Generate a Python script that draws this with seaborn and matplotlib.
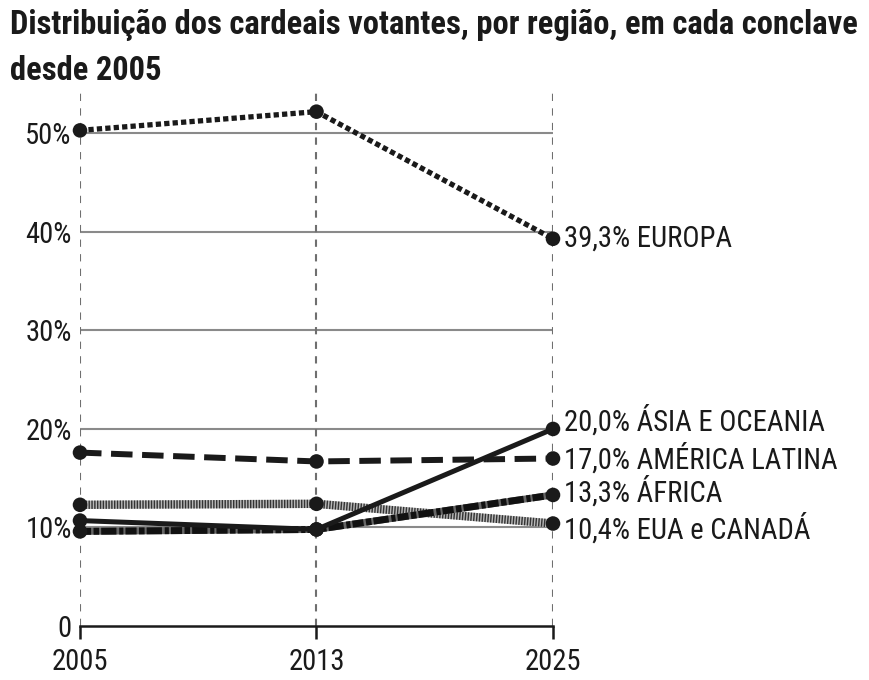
import matplotlib
matplotlib.use("Agg")
import matplotlib.pyplot as plt
from matplotlib import font_manager
import seaborn as sns
import pandas as pd

# ---- data ----
years = ["2005", "2013", "2025"]
regions = ["EUA e CANADÁ", "ÁFRICA", "AMÉRICA LATINA", "ÁSIA E OCEANIA", "EUROPA"]
eua_canada = [12.3, 12.4, 10.4]
africa = [9.6, 9.8, 13.3]
america_latina = [17.6, 16.7, 17.0]
asia_oceania = [10.7, 9.8, 20.0]
europa = [50.3, 52.2, 39.3]
y_ticks = [0, 10, 20, 30, 40, 50]
y_tick_labels = ["0", "10%", "20%", "30%", "40%", "50%"]
title_l1 = "Distribuição dos cardeais votantes, por região, em cada conclave"
title_l2 = "desde 2005"

series = {
    "EUA e CANADÁ": eua_canada,
    "ÁFRICA": africa,
    "AMÉRICA LATINA": america_latina,
    "ÁSIA E OCEANIA": asia_oceania,
    "EUROPA": europa,
}

df = pd.DataFrame(
    [(r, y, v) for r in regions for y, v in zip(years, series[r])],
    columns=["region", "year", "value"],
)

sns.set_theme(style="white")
avail = {f.name for f in font_manager.fontManager.ttflist}
font = "DejaVu Sans"
for cand in ["Liberation Sans Narrow", "DejaVu Sans Condensed", "Roboto Condensed",
             "Open Sans Condensed", "Noto Sans Condensed", "Lato"]:
    if cand in avail:
        font = cand
        break
plt.rcParams["font.family"] = [font, "DejaVu Sans"]
INK = "#1a1a1a"

fig = plt.figure(figsize=(8.7, 6.8), dpi=100)
ax = fig.add_axes([80 / 870, 54 / 680, 473 / 870, 537 / 680])
renderer = fig.canvas.get_renderer()


def fit_size(text, target_px, base=20, **kw):
    t = fig.text(0, 0, text, fontsize=base, **kw)
    w = t.get_window_extent(renderer=renderer).width
    t.remove()
    return base * target_px / w


styles = {
    "EUA e CANADÁ": [dict(color="#b8b8b8", lw=6.0, ls="-"),
                     dict(color="#333333", lw=6.0, ls=(0, (0.17, 0.17)))],
    "ÁFRICA": [dict(color="#666666", lw=5.0, ls="-"),
               dict(color="#111111", lw=5.0, ls=(0, (1.6, 0.35, 0.8, 0.3, 2.2, 0.4, 0.6, 0.3)))],
    "AMÉRICA LATINA": [dict(color=INK, lw=4.3, ls=(0, (3.6, 1.6)))],
    "ÁSIA E OCEANIA": [dict(color=INK, lw=3.6, ls="-")],
    "EUROPA": [dict(color=INK, lw=3.8, ls=(0, (1.0, 0.6)))],
}

for r in regions:
    sub = df[df.region == r]
    for st in styles[r]:
        sns.lineplot(data=sub, x="year", y="value", ax=ax, color=st["color"],
                     linewidth=st["lw"], linestyle=st["ls"], sort=False,
                     legend=False, solid_capstyle="butt", dash_capstyle="butt")
    sns.scatterplot(data=sub, x="year", y="value", ax=ax, color=INK,
                    s=110, edgecolor="none", zorder=5, clip_on=False, legend=False)

lab_size = fit_size("17,0% AMÉRICA LATINA", 273)

# labels at right
offsets = {"EUROPA": 0, "ÁSIA E OCEANIA": 6, "AMÉRICA LATINA": 0,
           "ÁFRICA": 2, "EUA e CANADÁ": -4}
for r in regions:
    v = series[r][-1]
    txt = f"{v:.1f}".replace(".", ",") + "% " + r
    ax.annotate(txt, xy=(len(years) - 1, v), xytext=(8, offsets[r]),
                textcoords="offset points", va="center", ha="left",
                fontsize=lab_size, color=INK, annotation_clip=False)

ax.set_xlim(0, len(years) - 1)
ax.set_ylim(0, 54.5)
ax.set_yticks(y_ticks)
ax.set_yticklabels(y_tick_labels)
ax.set_xticks(range(len(years)))
ax.set_xticklabels(years)
ax.set_xlabel("")
ax.set_ylabel("")

for y in y_ticks[1:]:
    ax.axhline(y, color="#8a8a8a", lw=1.5, zorder=0)
ax.grid(axis="x", color="#6f6f6f", linestyle=(0, (3.5, 3.5)), lw=1.5, zorder=0)
ax.grid(axis="y", visible=False)

for s in ["top", "right", "left"]:
    ax.spines[s].set_visible(False)
ax.spines["bottom"].set_color(INK)
ax.spines["bottom"].set_linewidth(1.8)
ax.tick_params(axis="x", length=9, width=1.8, color=INK, pad=7,
               labelsize=lab_size, labelcolor=INK, bottom=True, direction="out")
ax.tick_params(axis="y", length=0, pad=6, labelsize=lab_size, labelcolor=INK)

title_size = fit_size(title_l1, 848, fontweight="bold")
fig.text(10 / 870, 1 - 9 / 680, title_l1 + "\n" + title_l2, ha="left", va="top",
         fontsize=title_size, fontweight="bold", color=INK, linespacing=1.55)

fig.savefig("out.png", dpi=100)
